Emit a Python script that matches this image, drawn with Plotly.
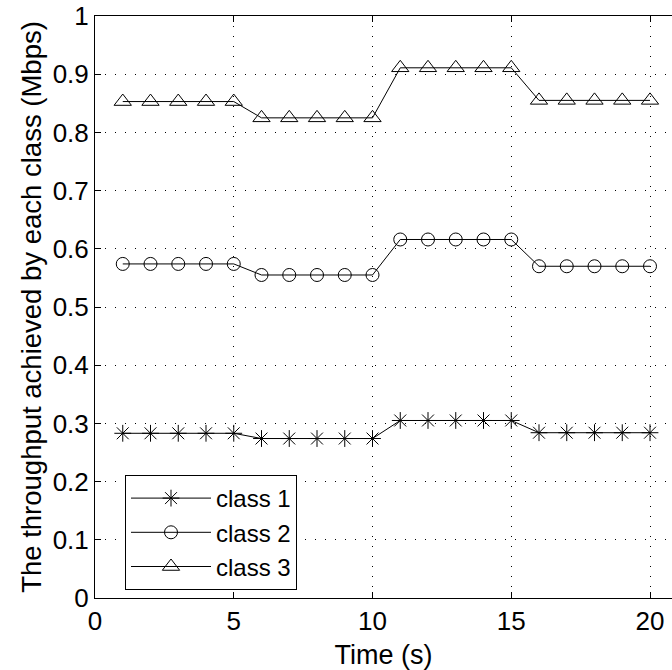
import plotly.graph_objects as go

time_s = list(range(1, 21))
class1 = [0.283]*5 + [0.274]*5 + [0.305]*5 + [0.284]*5
class2 = [0.574]*5 + [0.555]*5 + [0.616]*5 + [0.570]*5
class3 = [0.853]*5 + [0.825]*5 + [0.911]*5 + [0.855]*5

series_names = ["class 1", "class 2", "class 3"]
series_values = [class1, class2, class3]
symbols = ["asterisk-open", "circle-open", "triangle-up-open"]
marker_sizes = [14, 13, 15]

ytick_vals = [0, 0.1, 0.2, 0.3, 0.4, 0.5, 0.6, 0.7, 0.8, 0.9, 1]
ytick_text = ["0", "0.1", "0.2", "0.3", "0.4", "0.5", "0.6", "0.7", "0.8", "0.9", "1"]
xtick_vals = [0, 5, 10, 15, 20]

FONT = "Liberation Sans, Arial, Helvetica, sans-serif"

fig = go.Figure()
for name, vals, sym, ms in zip(series_names, series_values, symbols, marker_sizes):
    fig.add_trace(go.Scatter(
        x=time_s, y=vals, name=name, mode="lines+markers",
        line=dict(color="black", width=1),
        marker=dict(symbol=sym, size=ms, color="black", line=dict(color="black", width=1)),
    ))

fig.update_layout(
    width=672, height=670,
    margin=dict(l=95, r=0, t=16, b=72, autoexpand=False),
    paper_bgcolor="white", plot_bgcolor="white",
    font=dict(family=FONT, size=26, color="black"),
    showlegend=True,
    legend=dict(
        x=(125-95)/577, y=(598-475)/582, xanchor="left", yanchor="top",
        bgcolor="white", bordercolor="black", borderwidth=1,
        font=dict(family=FONT, size=24, color="black"),
        tracegroupgap=0, itemwidth=80,
    ),
)
fig.update_xaxes(
    range=[0, 577/27.75], tickvals=xtick_vals,
    ticks="inside", ticklen=6, tickcolor="black",
    showline=True, linecolor="black", linewidth=1, mirror="ticks",
    showgrid=True, gridcolor="black", gridwidth=1, griddash="1px,9px",
    zeroline=False, automargin=False,
    title=dict(text="Time (s)", standoff=9, font=dict(size=27)),
    tickfont=dict(size=26),
)
fig.update_yaxes(
    range=[0, 1], tickvals=ytick_vals, ticktext=ytick_text,
    ticks="inside", ticklen=6, tickcolor="black",
    showline=True, linecolor="black", linewidth=1, mirror=False,
    showgrid=True, gridcolor="black", gridwidth=1, griddash="1px,9px",
    zeroline=False, automargin=False, ticklabeloverflow="allow",
    title=dict(text="The throughput achieved by each class (Mbps)", standoff=3, font=dict(size=27.5)),
    tickfont=dict(size=26),
)

fig.write_html("out.html", config={"displayModeBar": False},
               post_script="document.body.style.margin='0px';")
